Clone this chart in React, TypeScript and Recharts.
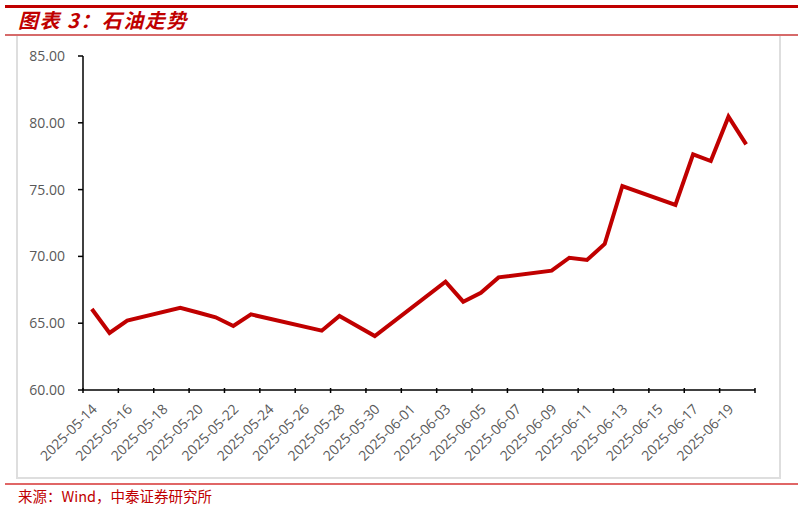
import React from "react";
import { LineChart, Line, XAxis, YAxis } from "recharts";

const dates = [
  "2025-05-14", "2025-05-15", "2025-05-16", "2025-05-17", "2025-05-18", "2025-05-19",
  "2025-05-20", "2025-05-21", "2025-05-22", "2025-05-23", "2025-05-24", "2025-05-25",
  "2025-05-26", "2025-05-27", "2025-05-28", "2025-05-29", "2025-05-30", "2025-05-31",
  "2025-06-01", "2025-06-02", "2025-06-03", "2025-06-04", "2025-06-05", "2025-06-06",
  "2025-06-07", "2025-06-08", "2025-06-09", "2025-06-10", "2025-06-11", "2025-06-12",
  "2025-06-13", "2025-06-14", "2025-06-15", "2025-06-16", "2025-06-17", "2025-06-18",
  "2025-06-19", "2025-06-20",
];

// null = no quote that day (weekends / holidays), line bridges over them
const oilPrice: (number | null)[] = [
  66.06, 64.27, 65.19, null, null, 66.16,
  65.8, 65.44, 64.79, 65.66, null, null,
  null, 64.44, 65.54, null, 64.04, null,
  null, null, 68.1, 66.61, 67.28, 68.43,
  null, null, 68.93, 69.9, 69.73, 70.93,
  75.27, null, null, 73.85, 77.64, 77.14,
  80.46, 78.39,
];

const yTicks = [60, 65, 70, 75, 80, 85];

const data = dates.map((d, i) => ({ date: d, price: oilPrice[i] }));

const W = 803;
const H = 508;
const PLOT_LEFT = 83;
const PLOT_RIGHT = 755;
const BAND = (PLOT_RIGHT - PLOT_LEFT) / dates.length;

const RED = "#c00000";

const DateTick = (props: any) => {
  const { x, y, payload } = props;
  const tx = x + 6;
  const ty = y + 12;
  const isLast = payload.value === dates[dates.length - 2];
  return (
    <g>
      <line x1={x - BAND / 2} y1={y - 10} x2={x - BAND / 2} y2={y - 5} stroke="#000" strokeWidth={1.5} />
      {isLast && (
        <line x1={x + BAND * 1.5} y1={y - 10} x2={x + BAND * 1.5} y2={y - 5} stroke="#000" strokeWidth={1.5} />
      )}
      <text
        x={tx}
        y={ty}
        textAnchor="end"
        fill="#595959"
        fontSize={14}
        fontFamily="'Open Sans', sans-serif"
        transform={`rotate(-45, ${tx}, ${ty})`}
      >
        {payload.value}
      </text>
    </g>
  );
};

export default function App() {
  return (
    <div style={{ position: "absolute", left: 0, top: 0, width: W, height: H, background: "#fff", fontFamily: "'Noto Sans CJK SC', sans-serif" }}>
      {/* header rules */}
      <div style={{ position: "absolute", left: 5, top: 5, width: 793, height: 3, background: RED }} />
      <div
        style={{
          position: "absolute",
          left: 18,
          top: 7,
          fontSize: 20,
          fontWeight: 700,
          fontStyle: "italic",
          color: RED,
          lineHeight: "26px",
          letterSpacing: 1.5,
          whiteSpace: "nowrap",
        }}
      >
        图表 3：石油走势
      </div>
      <div style={{ position: "absolute", left: 5, top: 34, width: 793, height: 2, background: "#d66a6a" }} />

      {/* chart frame */}
      <div style={{ position: "absolute", left: 16, top: 36, width: 761, height: 441, border: "2px solid #dedede", borderTop: "none" }} />

      <div style={{ position: "absolute", left: 0, top: 0 }}>
        <LineChart
          width={W}
          height={H}
          data={data}
          margin={{ top: 56, right: W - PLOT_RIGHT, left: PLOT_LEFT - 60, bottom: 48 }}
        >
          <XAxis
            dataKey="date"
            interval={1}
            height={70}
            padding={{ left: BAND / 2, right: BAND / 2 }}
            axisLine={{ stroke: "#000", strokeWidth: 1.5 }}
            tickLine={false}
            tick={<DateTick />}
          />
          <YAxis
            width={60}
            domain={[60, 85]}
            ticks={yTicks}
            allowDataOverflow
            tickFormatter={(v: number) => v.toFixed(2)}
            axisLine={{ stroke: "#000", strokeWidth: 1.5 }}
            tickLine={{ stroke: "#000", strokeWidth: 1.5 }}
            tickSize={5}
            tickMargin={13}
            tick={{ fill: "#595959", fontSize: 14, fontFamily: "'Open Sans', sans-serif" }}
          />
          <Line
            type="linear"
            dataKey="price"
            stroke={RED}
            strokeWidth={4}
            dot={false}
            activeDot={false}
            connectNulls
            isAnimationActive={false}
          />
        </LineChart>
      </div>

      {/* footer */}
      <div style={{ position: "absolute", left: 5, top: 483, width: 793, height: 2, background: "#e06666" }} />
      <div
        style={{
          position: "absolute",
          left: 18,
          top: 486,
          fontSize: 14.5,
          color: RED,
          lineHeight: "20px",
          whiteSpace: "nowrap",
        }}
      >
        来源：Wind，中泰证券研究所
      </div>
    </div>
  );
}
